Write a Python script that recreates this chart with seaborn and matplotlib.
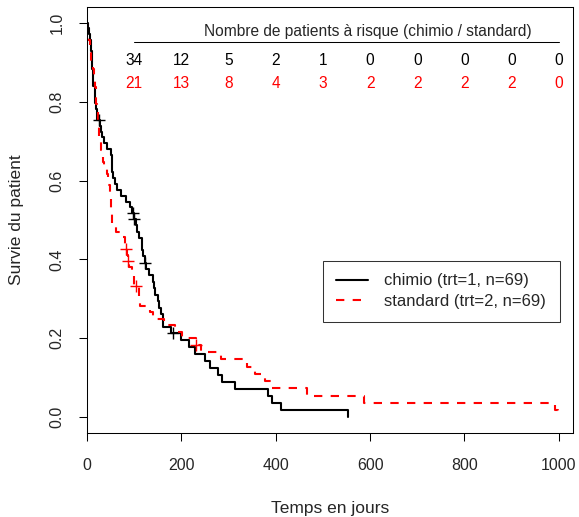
import numpy as np
import pandas as pd
import matplotlib
matplotlib.use("Agg")
import matplotlib.pyplot as plt
from matplotlib.lines import Line2D
import seaborn as sns

# ---- data (veteran lung cancer trial) ----
chimio_time = [72, 411, 228, 126, 118, 10, 82, 110, 314, 100, 42, 8, 144, 25, 11, 30,
               384, 4, 54, 13, 123, 97, 153, 59, 117, 16, 151, 22, 56, 21, 18, 139, 20,
               31, 52, 287, 18, 51, 122, 27, 54, 7, 63, 392, 10, 8, 92, 35, 117, 132, 12,
               162, 3, 95, 177, 162, 216, 553, 278, 12, 260, 200, 156, 182, 143, 105,
               103, 250, 100]
chimio_event = [1, 1, 1, 1, 1, 1, 1, 1, 1, 0, 1, 1, 1, 0, 1, 1,
                1, 1, 1, 1, 0, 0, 1, 1, 1, 1, 1, 1, 1, 1, 1, 1, 1,
                1, 1, 1, 1, 1, 1, 1, 1, 1, 1, 1, 1, 1, 1, 1, 1, 1, 1,
                1, 1, 1, 1, 1, 1, 1, 1, 1, 1, 1, 1, 0, 1, 1,
                1, 1, 1]
standard_time = [999, 112, 87, 231, 242, 991, 111, 1, 587, 389, 33, 25, 357, 467, 201,
                 1, 30, 44, 283, 15, 25, 103, 21, 13, 87, 2, 20, 7, 24, 99, 8, 99, 61,
                 25, 95, 80, 51, 29, 24, 18, 83, 31, 51, 90, 52, 73, 8, 36, 48, 7, 140,
                 186, 84, 19, 45, 80, 52, 164, 19, 53, 15, 43, 340, 133, 111, 231, 378, 49]
standard_event = [1, 1, 0, 0, 1, 1, 1, 1, 1, 1, 1, 1, 1, 1, 1,
                  1, 1, 1, 1, 1, 1, 0, 1, 1, 1, 1, 1, 1, 1, 1, 1, 1, 1,
                  1, 1, 1, 1, 1, 1, 1, 0, 1, 1, 1, 1, 1, 1, 1, 1, 1, 1,
                  1, 1, 1, 1, 1, 1, 1, 1, 1, 1, 1, 1, 1, 1, 1, 1, 1]

risk_times = [100, 200, 300, 400, 500, 600, 700, 800, 900, 1000]
risk_chimio = [34, 12, 5, 2, 1, 0, 0, 0, 0, 0]
risk_standard = [21, 13, 8, 4, 3, 2, 2, 2, 2, 0]

labels = ["chimio (trt=1, n=69)", "standard (trt=2, n=69)"]
colors = ["black", "red"]


def km(times, events):
    t = np.asarray(times, float)
    e = np.asarray(events, int)
    n = len(t)
    S = 1.0
    xs, ys = [0.0], [1.0]
    cx, cy = [], []
    for u in np.unique(t):
        m = t == u
        d = int(e[m].sum())
        c = int(m.sum()) - d
        if d > 0:
            S *= 1 - d / n
            xs.append(u)
            ys.append(S)
        if c > 0:
            cx.append(u)
            cy.append(S)
        n -= d + c
    if t.max() > xs[-1]:
        xs.append(t.max())
        ys.append(S)
    return pd.DataFrame({"t": xs, "s": ys}), pd.DataFrame({"t": cx, "s": cy})


sns.set_style("white")
plt.rcParams["font.family"] = ["Liberation Sans", "DejaVu Sans"]
FS = 11.2
FS_TICK = 11.5
FS_LAB = 12.5
FS_LEG = 12

fig = plt.figure(figsize=(5.79, 5.17), dpi=100)
ax = fig.add_axes([87 / 579, 1 - 433 / 517, 486 / 579, 426 / 517])

curves = [km(chimio_time, chimio_event), km(standard_time, standard_event)]
styles = ["-", (0, (4, 4))]
for (df, cens), col, ls in zip(curves, colors, styles):
    sns.lineplot(data=df, x="t", y="s", ax=ax, color=col, linestyle=ls, lw=1.5,
                 estimator=None, sort=False, drawstyle="steps-post", legend=False)
    sns.scatterplot(data=cens, x="t", y="s", ax=ax, marker="+", s=80, color=col,
                    linewidth=1.0, legend=False, zorder=3)

ax.set_xlim(0, 1030)
ax.set_ylim(-0.04, 1.04)
ax.set_xticks([0, 200, 400, 600, 800, 1000])
ax.set_yticks([0.0, 0.2, 0.4, 0.6, 0.8, 1.0])
ax.set_yticklabels(["0.0", "0.2", "0.4", "0.6", "0.8", "1.0"], rotation=90, va="center")
ax.tick_params(axis="both", which="both", direction="out", length=6, width=0.75,
               color="black", labelsize=FS_TICK, bottom=True, left=True)
ax.tick_params(axis="x", pad=12)
ax.tick_params(axis="y", pad=10)
for sp in ax.spines.values():
    sp.set_color("black")
    sp.set_linewidth(0.75)
ax.set_xlabel("Temps en jours", fontsize=FS_LAB)
ax.set_ylabel("Survie du patient", fontsize=FS_LAB)
ax.xaxis.label.set_va("center")
ax.yaxis.label.set_va("center")
ax.xaxis.set_label_coords(0.5, (433 - 508) / 426)
ax.yaxis.set_label_coords((17 - 87) / 486, 0.5)

# risk table
ax.text(595, 0.979, "Nombre de patients à risque (chimio / standard)", ha="center",
        va="center", fontsize=FS)
ax.plot([risk_times[0], risk_times[-1]], [0.951, 0.951], color="black", lw=0.75)
for x, a, b in zip(risk_times, risk_chimio, risk_standard):
    ax.text(x, 0.905, str(a), ha="center", va="center", fontsize=FS, color="black")
    ax.text(x, 0.847, str(b), ha="center", va="center", fontsize=FS, color="red")

handles = [Line2D([], [], color=c, lw=1.5, linestyle=s) for c, s in zip(colors, styles)]
leg = ax.legend(handles, labels, loc="lower left", bbox_to_anchor=(0.486, 0.261, 0.487, 0.143),
                mode="expand", fontsize=FS_LEG, frameon=True, fancybox=False, handlelength=1.95,
                handletextpad=0.95, borderpad=0.75, labelspacing=0.35, borderaxespad=0)
leg.get_frame().set_edgecolor("black")
leg.get_frame().set_linewidth(0.75)
leg._legend_box.align = "left"

fig.savefig("out.png", dpi=100)
